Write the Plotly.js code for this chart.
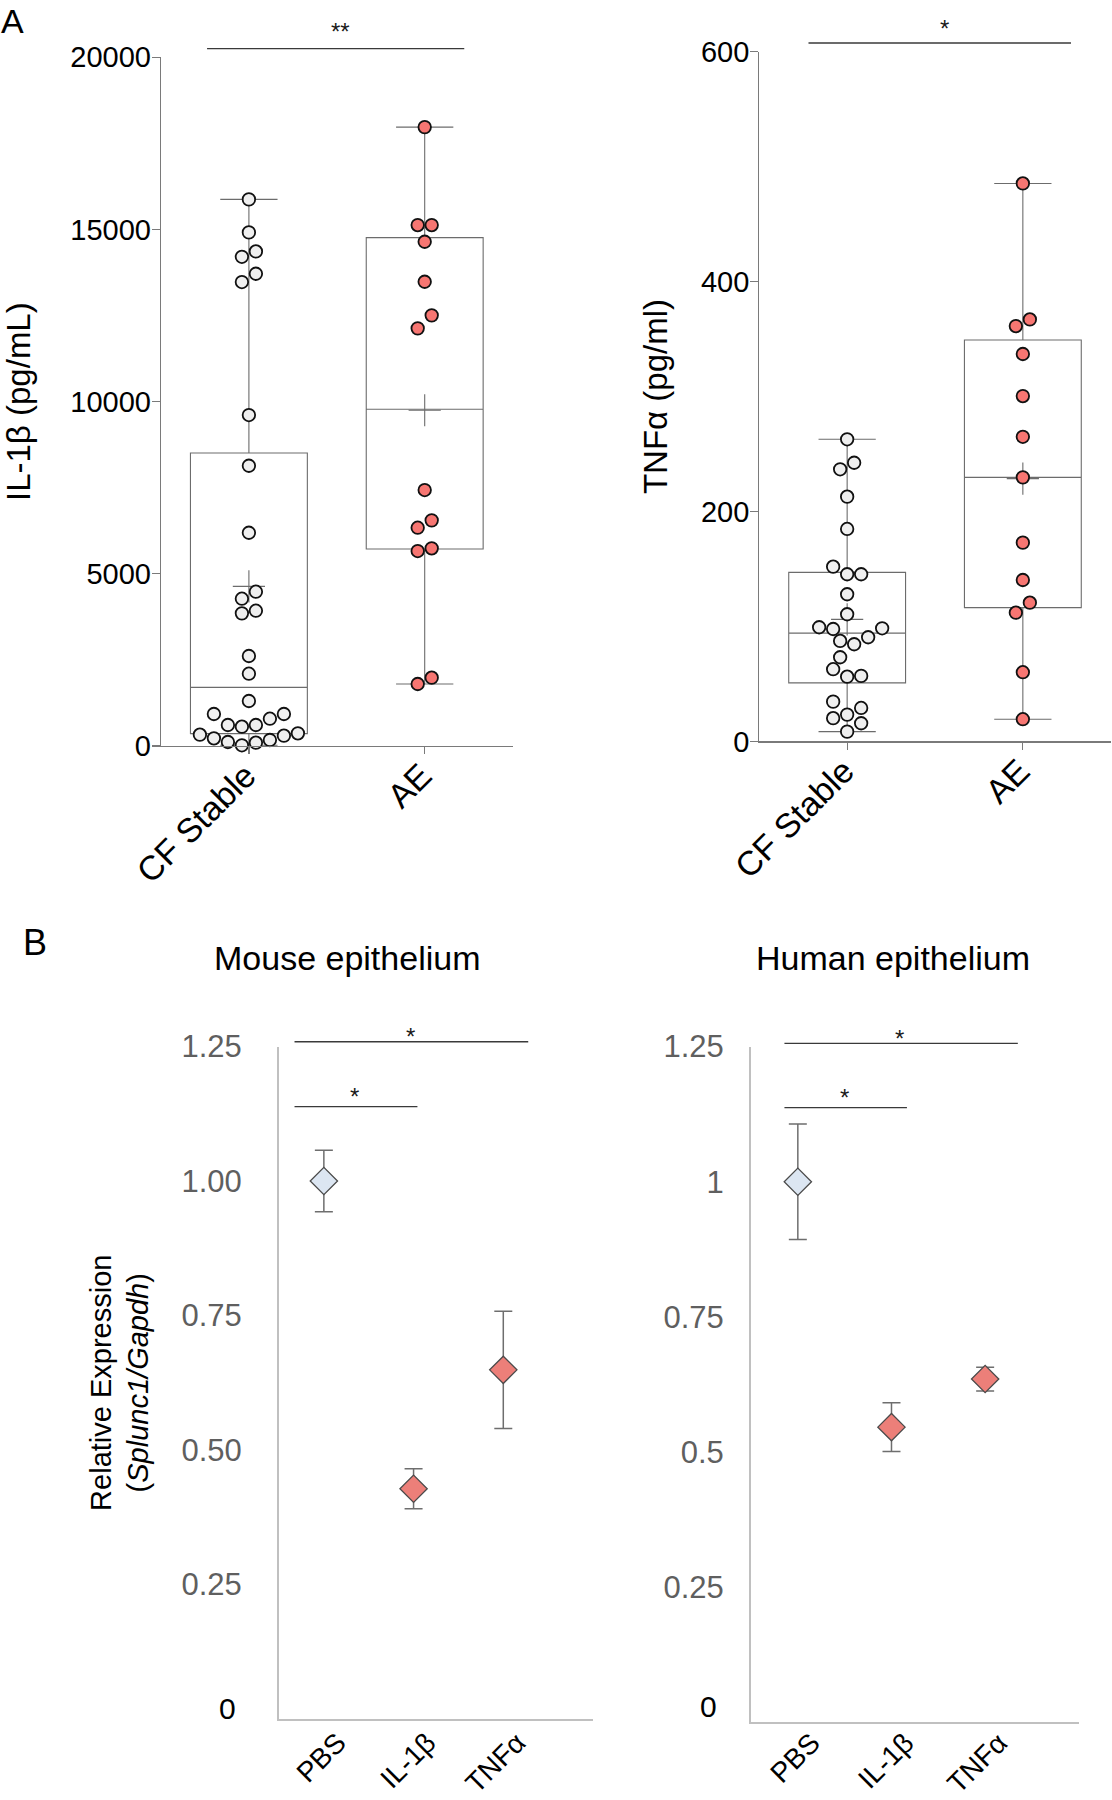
<!DOCTYPE html>
<html>
<head>
<meta charset="utf-8">
<script src="https://cdn.plot.ly/plotly-3.0.1.min.js"></script>
<style>
  html, body { margin: 0; padding: 0; background: #ffffff; }
  #chart { width: 1112px; height: 1800px; }
</style>
</head>
<body>
<div id="chart"></div>
<script>
// ------------------------- DATA -------------------------
const groupsA = ['CF Stable', 'AE'];
const il1bStable = [15874, 14915, 14363, 14207, 13714, 13473, 9611, 8139, 6193, 4481, 4278, 3929, 3852,
  2613, 2100, 1307, 929, 929, 793, 610, 610, 561, 368, 329, 300, 223, 174, 116, 97, 20];
const il1bAE = [17973, 15128, 15128, 14643, 13482, 12506, 12128, 7433, 6553, 6339, 5740, 5662, 1984, 1800];
const tnfStable = [262.8, 242.4, 236.7, 212.9, 184.8, 152, 145.4, 145.4, 128, 110.6, 99.3, 98.4, 97.8,
  90.6, 87.4, 84.5, 73.2, 62.8, 57, 56.3, 34.6, 29.1, 23.3, 20.2, 15.8, 8.5];
const tnfAE = [485.4, 367.1, 361.3, 337, 300.4, 265, 229.7, 172.9, 140.4, 120.7, 112, 60.2, 19.3];

const treatments = ['PBS', 'IL-1β', 'TNFα'];
const mouseMean = [1.00, 0.428, 0.649];
const mouseErr = [0.057, 0.037, 0.109];
const humanMean = [1.00, 0.546, 0.635];
const humanErr = [0.107, 0.045, 0.022];

const mouseTickVals = [0.25, 0.5, 0.75, 1, 1.25];
const mouseTickText = ['0.25', '0.50', '0.75', '1.00', '1.25'];
const humanTickVals = [0.25, 0.5, 0.75, 1, 1.25];
const humanTickText = ['0.25', '0.5', '0.75', '1', '1.25'];

// ------------------------- LAYOUT GEOMETRY -------------------------
const W = 1112, H = 1800;
const fx = px => px / W;
const fy = py => 1 - py / H;
const FONT = 'Liberation Sans, Arial, Helvetica, sans-serif';

const geo = {
  a1: { x: [161, 512.6], y: [57.3, 746], range: [0, 20000] },
  a2: { x: [759.3, 1110.7], y: [51.7, 741.4], range: [0, 600] },
  b1: { x: [279, 593], y: [1046.5, 1719], range: [0, 1.25] },
  b2: { x: [751, 1078.8], y: [1046.6, 1722.3], range: [0, 1.25] }
};
const catRangeA = [-0.5, 1.5];
const catRangeB = [-0.5, 3.0];

// ------------------------- HELPERS -------------------------
function quartile(sorted, p) { // (n+1)p method
  const n = sorted.length;
  const pos = (n + 1) * p;
  if (pos <= 1) return sorted[0];
  if (pos >= n) return sorted[n - 1];
  const lo = Math.floor(pos);
  return sorted[lo - 1] + (pos - lo) * (sorted[lo] - sorted[lo - 1]);
}

// Row-based beeswarm; returns horizontal offsets in pixels
function swarmOffsets(vals, pxPerVal, spacing, minDist) {
  const idx = vals.map((v, i) => i).sort((a, b) => vals[a] - vals[b]);
  const placed = [];
  const off = new Array(vals.length).fill(0);
  const step = spacing / 2;
  const collides = (x, y) => placed.some(p => Math.hypot(p.x - x, p.y - y) < minDist);
  let r = 0;
  while (r < idx.length) {
    const start = vals[idx[r]];
    const row = [];
    while (r < idx.length && (vals[idx[r]] - start) * pxPerVal < spacing) { row.push(idx[r]); r++; }
    const n = row.length;
    const slots = [];
    for (let k = 0; k < n; k++) slots.push((k - (n - 1) / 2) * spacing);
    slots.sort((a, b) => (Math.abs(a) - Math.abs(b)) || (n % 2 ? b - a : a - b));
    row.forEach((id, j) => {
      const y = vals[id] * pxPerVal;
      let x = slots[j];
      if (collides(x, y)) {
        const cands = [];
        for (let k = 1; k < 40; k++) {
          if (x === 0) { cands.push(k * step, -k * step); }
          else { cands.push(x + Math.sign(x) * k * step); }
        }
        for (const c of cands) { if (!collides(c, y)) { x = c; break; } }
      }
      placed.push({ x, y });
      off[id] = x;
    });
  }
  return off;
}

const BOX_W = 0.665;
const MARK = { size: 12.5, line: 1.8 };
const fillA = ['#efefef', '#f77672'];
const boxGray = '#6c6c6c';

function groupTraces(vals, pos, g, xa, ya, fill) {
  const s = [...vals].sort((a, b) => a - b);
  const mean = vals.reduce((a, b) => a + b, 0) / vals.length;
  const pxPerVal = (g.y[1] - g.y[0]) / (g.range[1] - g.range[0]);
  const pxPerCat = (g.x[1] - g.x[0]) / (catRangeA[1] - catRangeA[0]);
  const offs = swarmOffsets(vals, pxPerVal, 14, 12.6);
  const box = {
    type: 'box', x: [pos], q1: [quartile(s, 0.25)], median: [quartile(s, 0.5)], q3: [quartile(s, 0.75)],
    lowerfence: [s[0]], upperfence: [s[s.length - 1]],
    width: BOX_W, whiskerwidth: 0.49, boxpoints: false,
    line: { color: boxGray, width: 1.1 }, fillcolor: 'rgba(0,0,0,0)',
    xaxis: xa, yaxis: ya, showlegend: false, hoverinfo: 'skip'
  };
  const meanTr = {
    type: 'scatter', mode: 'markers', x: [pos], y: [mean], xaxis: xa, yaxis: ya,
    marker: { symbol: 'cross-thin-open', size: 23, color: boxGray, line: { color: boxGray, width: 1.1 } },
    showlegend: false, hoverinfo: 'skip', cliponaxis: false
  };
  const pts = {
    type: 'scatter', mode: 'markers', x: vals.map((v, i) => pos + offs[i] / pxPerCat), y: vals,
    xaxis: xa, yaxis: ya, cliponaxis: false,
    marker: { size: MARK.size, color: fill, line: { color: '#111111', width: MARK.line } },
    showlegend: false, hoverinfo: 'skip'
  };
  return { box, meanTr, pts };
}

const g1 = groupTraces(il1bStable, 0, geo.a1, 'x', 'y', fillA[0]);
const g2 = groupTraces(il1bAE, 1, geo.a1, 'x', 'y', fillA[1]);
const g3 = groupTraces(tnfStable, 0, geo.a2, 'x2', 'y2', fillA[0]);
const g4 = groupTraces(tnfAE, 1, geo.a2, 'x2', 'y2', fillA[1]);

const diamondFill = ['#dce6f2', '#ec7f79', '#ec7f79'];
function expTrace(means, errs, xa, ya) {
  return {
    type: 'scatter', mode: 'markers', x: treatments.map((t, i) => i), y: means, xaxis: xa, yaxis: ya,
    error_y: { type: 'data', array: errs, visible: true, color: '#6e6e6e', thickness: 1.5, width: 9 },
    marker: { symbol: 'diamond', size: 21, color: diamondFill, line: { color: '#4a4a4a', width: 1.3 } },
    showlegend: false, hoverinfo: 'skip', cliponaxis: false
  };
}

const data = [
  g1.box, g2.box, g3.box, g4.box,
  g1.meanTr, g2.meanTr, g3.meanTr, g4.meanTr,
  g1.pts, g2.pts, g3.pts, g4.pts,
  expTrace(mouseMean, mouseErr, 'x3', 'y3'),
  expTrace(humanMean, humanErr, 'x4', 'y4')
];

// ------------------------- AXES -------------------------
function axA_x(g, anchor) {
  return {
    domain: [fx(g.x[0]), fx(g.x[1])], range: catRangeA, anchor: anchor,
    tickvals: groupsA.map((c, i) => i), ticktext: groupsA, tickangle: -45,
    ticklabelstandoff: -12, ticklabelshift: -3,
    showline: true, linecolor: '#7a7a7a', linewidth: 1.2, ticks: 'outside', ticklen: 7, tickwidth: 1.2,
    tickcolor: '#7a7a7a', tickfont: { family: FONT, size: 34, color: '#000' },
    showgrid: false, zeroline: false, fixedrange: true
  };
}
function axA_y(g, anchor, dtick, title, standoff) {
  return {
    domain: [fy(g.y[1]), fy(g.y[0])], range: g.range, anchor: anchor, dtick: dtick, tickformat: 'd',
    showline: true, linecolor: '#7a7a7a', linewidth: 1.2, ticks: 'outside', ticklen: 8, tickwidth: 1.2,
    tickcolor: '#7a7a7a', tickfont: { family: FONT, size: 29, color: '#000' }, ticklabelstandoff: -5,
    showgrid: false, zeroline: false, fixedrange: true,
    title: { text: title, font: { family: FONT, size: 33, color: '#000' }, standoff: standoff }
  };
}
function axB_x(g, anchor, standoff) {
  return {
    domain: [fx(g.x[0]), fx(g.x[1])], range: catRangeB, anchor: anchor,
    tickvals: treatments.map((t, i) => i), ticktext: treatments, tickangle: -45,
    ticklabelshift: 14, ticklabelstandoff: standoff,
    showline: true, linecolor: '#c0c0c0', linewidth: 2, ticks: '',
    tickfont: { family: FONT, size: 28, color: '#000' },
    showgrid: false, zeroline: false, fixedrange: true
  };
}
function axB_y(g, anchor, tv, tt, standoff, title) {
  const ax = {
    domain: [fy(g.y[1]), fy(g.y[0])], range: g.range, anchor: anchor,
    tickvals: tv, ticktext: tt, ticklabelstandoff: standoff,
    showline: true, linecolor: '#c0c0c0', linewidth: 2, ticks: '',
    tickfont: { family: FONT, size: 31, color: '#5f5f5f' },
    showgrid: false, zeroline: false, fixedrange: true
  };
  if (title) ax.title = { text: title, font: { family: FONT, size: 29, color: '#000' }, standoff: 24 };
  return ax;
}

// ------------------------- ANNOTATIONS / SHAPES -------------------------
const starFont = { family: FONT, size: 24, color: '#1a1a1a' };
const sigLine = { color: '#3a3a3a', width: 1.3 };
function bar(xa, ya, x0, x1, y) {
  return { type: 'line', xref: xa, yref: ya + ' domain', x0: x0, x1: x1, y0: y, y1: y, line: sigLine };
}
function star(xa, ya, x, y, txt) {
  return { xref: xa, yref: ya + ' domain', x: x, y: y, text: txt, showarrow: false,
    xanchor: 'center', yanchor: 'middle', font: starFont };
}

const shapes = [
  bar('x', 'y', -0.238, 1.225, 1.0125),
  bar('x2', 'y2', -0.22, 1.274, 1.0126),
  bar('x3', 'y3', -0.327, 2.278, 1.0071),
  bar('x3', 'y3', -0.327, 1.043, 0.9105),
  bar('x4', 'y4', -0.143, 2.349, 1.0049),
  bar('x4', 'y4', -0.143, 1.165, 0.9096)
];

const annotations = [
  star('x', 'y', 0.521, 1.037, '**'),
  star('x2', 'y2', 0.553, 1.034, '*'),
  star('x3', 'y3', 0.971, 1.0146, '*'),
  star('x3', 'y3', 0.347, 0.9253, '*'),
  star('x4', 'y4', 1.09, 1.0123, '*'),
  star('x4', 'y4', 0.50, 0.9244, '*'),
  { xref: 'paper', yref: 'paper', x: fx(12.6), y: 1, text: 'A', showarrow: false,
    xanchor: 'center', yanchor: 'top', font: { family: FONT, size: 34, color: '#000' } },
  { xref: 'paper', yref: 'paper', x: fx(35), y: fy(942), text: 'B', showarrow: false,
    xanchor: 'center', yanchor: 'middle', font: { family: FONT, size: 36, color: '#000' } },
  { xref: 'paper', yref: 'paper', x: fx(347), y: fy(958), text: 'Mouse epithelium', showarrow: false,
    xanchor: 'center', yanchor: 'middle', font: { family: FONT, size: 34, color: '#000' } },
  { xref: 'paper', yref: 'paper', x: fx(892.7), y: fy(958), text: 'Human epithelium', showarrow: false,
    xanchor: 'center', yanchor: 'middle', font: { family: FONT, size: 34, color: '#000' } },
  { xref: 'x3 domain', yref: 'y3', x: 0, y: 0, text: '0', showarrow: false, xanchor: 'right',
    yanchor: 'middle', xshift: -41, yshift: 11, font: { family: FONT, size: 30, color: '#000' } },
  { xref: 'x4 domain', yref: 'y4', x: 0, y: 0, text: '0', showarrow: false, xanchor: 'right',
    yanchor: 'middle', xshift: -32, yshift: 16, font: { family: FONT, size: 30, color: '#000' } }
];

const layout = {
  width: W, height: H,
  margin: { l: 0, r: 0, t: 0, b: 0, pad: 0 },
  paper_bgcolor: '#ffffff', plot_bgcolor: 'rgba(0,0,0,0)',
  font: { family: FONT, color: '#000' },
  showlegend: false,
  xaxis: axA_x(geo.a1, 'y'),
  yaxis: axA_y(geo.a1, 'x', 5000, 'IL-1β (pg/mL)', 30),
  xaxis2: axA_x(geo.a2, 'y2'),
  yaxis2: axA_y(geo.a2, 'x2', 200, 'TNFα (pg/ml)', 23),
  xaxis3: axB_x(geo.b1, 'y3', -6),
  yaxis3: axB_y(geo.b1, 'x3', mouseTickVals, mouseTickText, 29,
    'Relative Expression<br>(<i>Splunc1/Gapdh</i>)'),
  xaxis4: axB_x(geo.b2, 'y4', -9),
  yaxis4: axB_y(geo.b2, 'x4', humanTickVals, humanTickText, 19, null),
  shapes: shapes,
  annotations: annotations
};

Plotly.newPlot('chart', data, layout, { displayModeBar: false, staticPlot: true });
</script>
</body>
</html>
